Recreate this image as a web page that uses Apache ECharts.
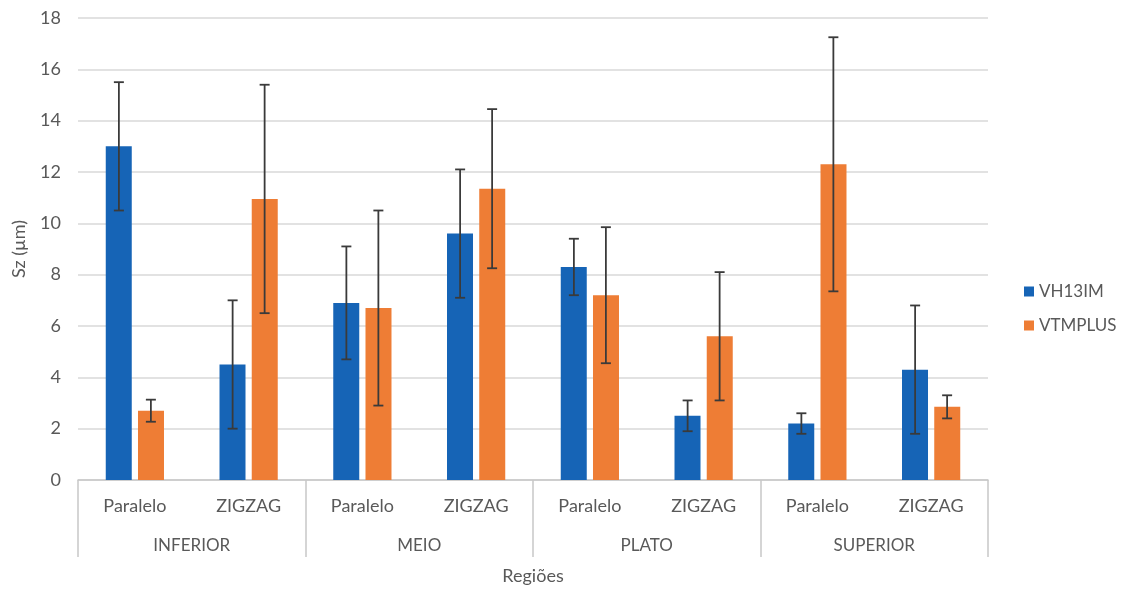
<!DOCTYPE html>
<html><head><meta charset="utf-8">
<script src="https://cdn.jsdelivr.net/npm/echarts@6/dist/echarts.min.js"></script>
<style>html,body{margin:0;padding:0;background:#fff}#c{width:1123px;height:590px}</style>
</head><body><div id="c"></div>
<script>
const subCategories = ['Paralelo','ZIGZAG','Paralelo','ZIGZAG','Paralelo','ZIGZAG','Paralelo','ZIGZAG'];
const groups = ['INFERIOR','MEIO','PLATO','SUPERIOR'];
const seriesNames = ['VH13IM','VTMPLUS'];
const vh13imValues = [13.0, 4.5, 6.9, 9.6, 8.3, 2.5, 2.2, 4.3];
const vh13imErrors = [2.5, 2.5, 2.2, 2.5, 1.1, 0.6, 0.4, 2.5];
const vtmplusValues = [2.7, 10.95, 6.7, 11.35, 7.2, 5.6, 12.3, 2.85];
const vtmplusErrors = [0.43, 4.45, 3.8, 3.1, 2.65, 2.5, 4.95, 0.45];
const yTicks = {min: 0, max: 18, interval: 2};

const colors = ['#1664B6', '#EE7D35'];
const textColor = '#595959';
const font = 'Lato, "Open Sans", sans-serif';

function errData(vals, errs) {
  return vals.map((v, i) => [i, v - errs[i], v + errs[i]]);
}
function errSeries(name, vals, errs, offset) {
  return {
    type: 'custom',
    name: name + ' err',
    z: 10,
    silent: true,
    data: errData(vals, errs),
    encode: {x: 0, y: [1, 2]},
    renderItem: function (params, api) {
      const i = api.value(0);
      const lo = api.coord([i, api.value(1)]);
      const hi = api.coord([i, api.value(2)]);
      const x = lo[0] + offset;
      const cap = 5;
      const st = {stroke: '#3a3a3a', lineWidth: 1.8};
      return {type: 'group', children: [
        {type: 'line', shape: {x1: x, y1: lo[1], x2: x, y2: hi[1]}, style: st},
        {type: 'line', shape: {x1: x - cap, y1: hi[1], x2: x + cap, y2: hi[1]}, style: st},
        {type: 'line', shape: {x1: x - cap, y1: lo[1], x2: x + cap, y2: lo[1]}, style: st}
      ]};
    }
  };
}

const chart = echarts.init(document.getElementById('c'), null, {renderer: 'canvas'});
chart.setOption({
  animation: false,
  backgroundColor: '#fff',
  color: colors,
  textStyle: {fontFamily: font},
  grid: {left: 78, right: 135, top: 18, bottom: 110, containLabel: false},
  legend: {
    data: seriesNames,
    orient: 'vertical',
    left: 1019, top: 278,
    itemWidth: 10, itemHeight: 10, itemGap: 17,
    icon: 'rect',
    textStyle: {color: textColor, fontSize: 17, fontFamily: font}
  },
  xAxis: [
    {
      type: 'category', data: subCategories, position: 'bottom',
      axisLine: {lineStyle: {color: '#c8c8c8', width: 1.5}},
      axisTick: {show: false},
      axisLabel: {color: textColor, fontSize: 18, margin: 17, fontFamily: font},
      splitLine: {show: false}
    },
    {
      type: 'category', data: groups, position: 'bottom', gridIndex: 0,
      axisLine: {show: false},
      axisTick: {show: true, length: 77, inside: false, lineStyle: {color: '#c8c8c8', width: 1.5}},
      axisLabel: {color: textColor, fontSize: 17, margin: 57, fontFamily: font},
      name: 'Regiões', nameLocation: 'middle', nameGap: 87,
      nameTextStyle: {color: textColor, fontSize: 18, fontFamily: font}
    }
  ],
  yAxis: {
    type: 'value', min: yTicks.min, max: yTicks.max, interval: yTicks.interval,
    axisLine: {show: false}, axisTick: {show: false},
    axisLabel: {color: textColor, fontSize: 18, margin: 17, fontFamily: font},
    splitLine: {lineStyle: {color: '#d9d9d9', width: 1.5}},
    name: 'Sz (µm)', nameLocation: 'middle', nameGap: 50, nameRotate: 90,
    nameTextStyle: {color: textColor, fontSize: 18, fontFamily: font}
  },
  series: [
    {type: 'bar', name: seriesNames[0], data: vh13imValues, xAxisIndex: 0, barWidth: 26, barGap: '24%', itemStyle: {color: colors[0]}},
    {type: 'bar', name: seriesNames[1], data: vtmplusValues, xAxisIndex: 0, barWidth: 26, barGap: '24%', itemStyle: {color: colors[1]}},
    errSeries(seriesNames[0], vh13imValues, vh13imErrors, -16),
    errSeries(seriesNames[1], vtmplusValues, vtmplusErrors, 16)
  ]
});
</script>
</body></html>
